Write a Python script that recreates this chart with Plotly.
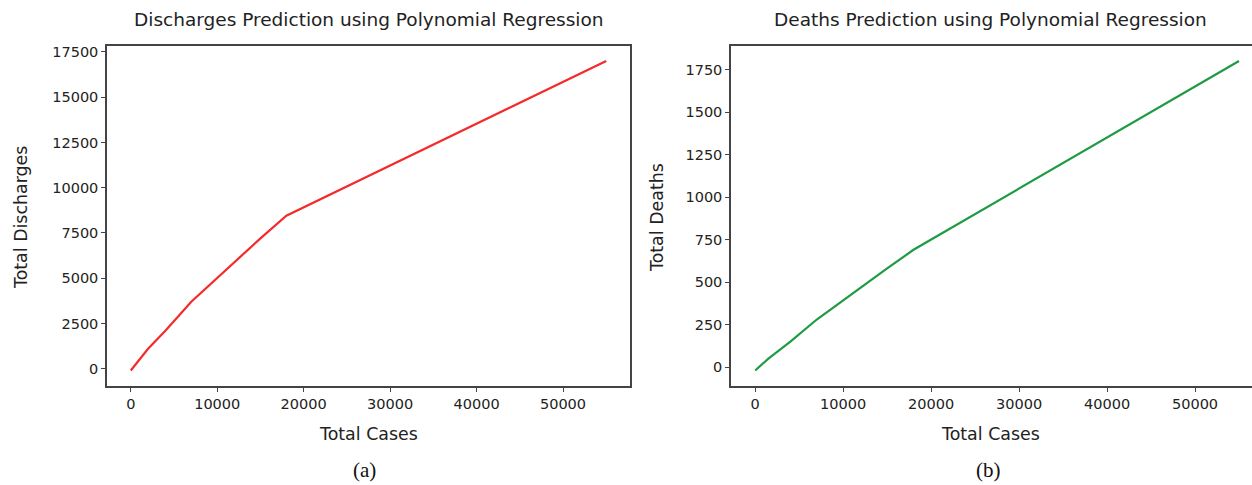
import plotly.graph_objects as go
from plotly.subplots import make_subplots

W, H = 1252, 485

# Data
cases_a = [0, 2000, 4000, 7000, 15000, 18000, 55000]
discharges = [-100, 1100, 2100, 3700, 7200, 8450, 17000]

cases_b = [0, 1500, 4000, 7000, 15000, 18000, 55000]
deaths = [-20, 50, 150, 280, 580, 690, 1800]

x_ticks = [0, 10000, 20000, 30000, 40000, 50000]
y_ticks_a = [0, 2500, 5000, 7500, 10000, 12500, 15000, 17500]
y_ticks_b = [0, 250, 500, 750, 1000, 1250, 1500, 1750]

fig = make_subplots(rows=1, cols=2)
fig.add_trace(go.Scatter(x=cases_a, y=discharges, mode="lines",
                         line=dict(color="#f52a2a", width=2.2)), row=1, col=1)
fig.add_trace(go.Scatter(x=cases_b, y=deaths, mode="lines",
                         line=dict(color="#1f9a45", width=2.2)), row=1, col=2)

ydom = [1 - 386 / H, 1 - 45.5 / H]
tickfont = dict(family="DejaVu Sans", size=14.5, color="#222")
axline = dict(showline=True, linecolor="#444", linewidth=1.5, ticks="outside",
              ticklen=4, tickcolor="#444", showgrid=False, zeroline=False,
              tickfont=tickfont)

def txt(v):
    return [str(t) for t in v]

fig.update_xaxes(domain=[107 / W, 630 / W], range=[-2750, 57750], tickvals=x_ticks,
                 ticktext=txt(x_ticks), mirror=True, row=1, col=1, **axline)
fig.update_yaxes(domain=ydom, range=[-955, 17855], tickvals=y_ticks_a,
                 ticktext=txt(y_ticks_a), mirror=True, row=1, col=1, **axline)
fig.update_xaxes(domain=[731 / W, 1.0], range=[-2750, 56477], tickvals=x_ticks,
                 ticktext=txt(x_ticks), mirror=True, row=1, col=2, **axline)
fig.update_yaxes(domain=ydom, range=[-111, 1891], tickvals=y_ticks_b,
                 ticktext=txt(y_ticks_b), mirror=False, row=1, col=2, **axline)

title = dict(family="DejaVu Sans", size=18.5, color="#222")
lab = dict(family="DejaVu Sans", size=17.4, color="#222")
cap = dict(family="Liberation Serif", size=21, color="#111")
ann = [
    dict(text="Discharges Prediction using Polynomial Regression", x=368 / W, y=1 - 20 / H, font=title),
    dict(text="Deaths Prediction using Polynomial Regression", x=990 / W, y=1 - 20 / H, font=title),
    dict(text="Total Cases", x=368 / W, y=1 - 434 / H, font=lab),
    dict(text="Total Cases", x=990 / W, y=1 - 434 / H, font=lab),
    dict(text="Total Discharges", x=21 / W, y=1 - 218 / H, font=lab, textangle=-90),
    dict(text="Total Deaths", x=657 / W, y=1 - 218 / H, font=lab, textangle=-90),
    dict(text="(a)", x=364 / W, y=1 - 470 / H, font=cap),
    dict(text="(b)", x=988 / W, y=1 - 470 / H, font=cap),
]
for a in ann:
    a.update(xref="paper", yref="paper", showarrow=False, xanchor="center", yanchor="middle")

fig.update_layout(width=W, height=H, margin=dict(l=0, r=0, t=0, b=0),
                  plot_bgcolor="white", paper_bgcolor="white", showlegend=False,
                  annotations=ann)
fig.write_html("out.html")
